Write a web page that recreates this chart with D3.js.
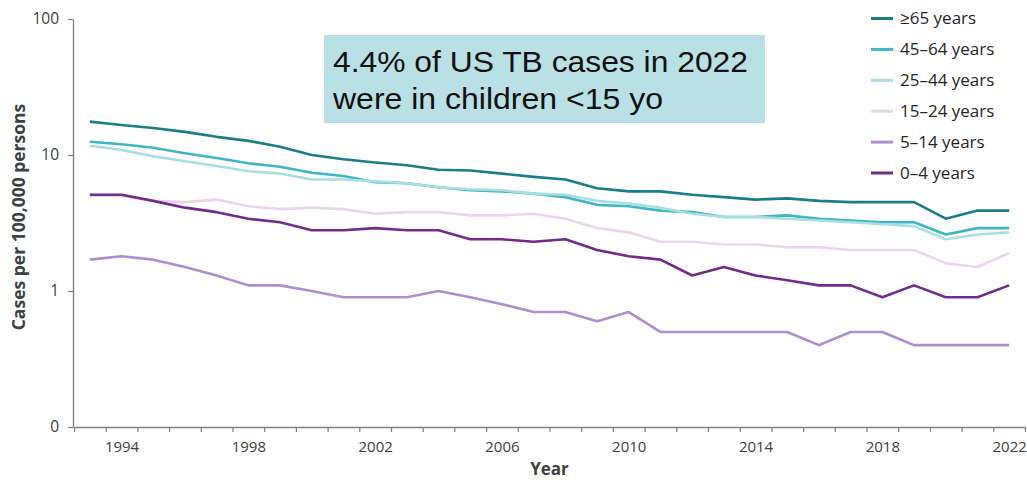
<!DOCTYPE html>
<html>
<head>
<meta charset="utf-8">
<script src="https://cdn.jsdelivr.net/npm/d3@7"></script>
<style>
  html, body { margin: 0; padding: 0; background: #fff; }
  svg { display: block; }
</style>
</head>
<body>
<svg id="chart" width="1027" height="480"></svg>
<script>
// TB case rates per 100,000 persons by age group, United States
const years = d3.range(1993, 2023);

const ageGroups = ["≥65 years", "45–64 years", "25–44 years", "15–24 years", "5–14 years", "0–4 years"];
const groupColors = ["#1a7d88", "#3eb6c3", "#a9dfe1", "#e8d6ea", "#ad8fcd", "#742a8c"];

const rate65plus = [17.6, 16.6, 15.8, 14.8, 13.6, 12.7, 11.5, 10.0, 9.3, 8.8, 8.4, 7.8, 7.7, 7.3, 6.9, 6.6, 5.7, 5.4, 5.4, 5.1, 4.9, 4.7, 4.8, 4.6, 4.5, 4.5, 4.5, 3.4, 3.9, 3.9];
const rate45to64 = [12.5, 12.0, 11.3, 10.3, 9.5, 8.7, 8.2, 7.4, 7.0, 6.3, 6.2, 5.8, 5.5, 5.4, 5.2, 4.9, 4.3, 4.2, 3.9, 3.8, 3.5, 3.5, 3.6, 3.4, 3.3, 3.2, 3.2, 2.6, 2.9, 2.9];
const rate25to44 = [11.7, 10.9, 9.8, 9.0, 8.3, 7.6, 7.3, 6.6, 6.6, 6.4, 6.2, 5.8, 5.6, 5.5, 5.2, 5.1, 4.6, 4.4, 4.1, 3.7, 3.5, 3.5, 3.4, 3.3, 3.2, 3.1, 3.0, 2.4, 2.6, 2.7];
const rate15to24 = [5.0, 5.0, 4.6, 4.5, 4.7, 4.2, 4.0, 4.1, 4.0, 3.7, 3.8, 3.8, 3.6, 3.6, 3.7, 3.4, 2.9, 2.7, 2.3, 2.3, 2.2, 2.2, 2.1, 2.1, 2.0, 2.0, 2.0, 1.6, 1.5, 1.9];
const rate5to14 = [1.7, 1.8, 1.7, 1.5, 1.3, 1.1, 1.1, 1.0, 0.9, 0.9, 0.9, 1.0, 0.9, 0.8, 0.7, 0.7, 0.6, 0.7, 0.5, 0.5, 0.5, 0.5, 0.5, 0.4, 0.5, 0.5, 0.4, 0.4, 0.4, 0.4];
const rate0to4 = [5.1, 5.1, 4.6, 4.1, 3.8, 3.4, 3.2, 2.8, 2.8, 2.9, 2.8, 2.8, 2.4, 2.4, 2.3, 2.4, 2.0, 1.8, 1.7, 1.3, 1.5, 1.3, 1.2, 1.1, 1.1, 0.9, 1.1, 0.9, 0.9, 1.1];

const yTickValues = [0.1, 1, 10, 100];
const yTickLabels = ["0", "1", "10", "100"];
const xLabelYears = [1994, 1998, 2002, 2006, 2010, 2014, 2018, 2022];

const calloutLines = ["4.4% of US TB cases in 2022", "were in children <15 yo"];

const seriesValues = [rate65plus, rate45to64, rate25to44, rate15to24, rate5to14, rate0to4];
const series = ageGroups.map((name, i) => ({
  name,
  color: groupColors[i],
  points: years.map((yr, j) => ({ year: yr, value: seriesValues[i][j] }))
}));

const svg = d3.select("#chart");
const axisFont = "'Open Sans', sans-serif";

// Plot area bounds
const plot = { left: 74, right: 1025, top: 19, bottom: 427 };

// Each year occupies one slot; points sit at slot centres
const x = d3.scaleLinear().domain([1992.5, 2022.5]).range([plot.left, plot.right]);
const y = d3.scaleLog().domain([0.1, 100]).range([plot.bottom, plot.top]);

// X axis: tick marks on slot boundaries, labels every fourth year
const xAxisTicks = svg.append("g")
  .attr("transform", `translate(0,${plot.bottom})`)
  .call(d3.axisBottom(x)
    .tickValues(d3.range(1992.5, 2023, 1))
    .tickSize(5)
    .tickSizeOuter(0)
    .tickFormat(""));
xAxisTicks.select(".domain").attr("stroke", "#7f7f7f").attr("stroke-width", 1.3);
xAxisTicks.selectAll(".tick line").attr("stroke", "#7f7f7f").attr("stroke-width", 1.2);

const xAxisLabels = svg.append("g")
  .attr("transform", `translate(0,${plot.bottom})`)
  .call(d3.axisBottom(x)
    .tickValues(xLabelYears)
    .tickSize(0)
    .tickPadding(14)
    .tickFormat(d3.format("d")));
xAxisLabels.select(".domain").remove();
xAxisLabels.selectAll("text")
  .attr("font-family", axisFont)
  .attr("font-size", 15)
  .attr("fill", "#404040");

// Y axis (log scale, bottom tick labelled 0)
const yAxis = svg.append("g")
  .attr("transform", `translate(${plot.left - 1},0)`)
  .call(d3.axisLeft(y)
    .tickValues(yTickValues)
    .tickSize(5)
    .tickSizeOuter(0)
    .tickPadding(9)
    .tickFormat((d, i) => yTickLabels[i]));
yAxis.select(".domain").attr("stroke", "#7f7f7f").attr("stroke-width", 1.3);
yAxis.selectAll(".tick line").attr("stroke", "#7f7f7f").attr("stroke-width", 1.2);
yAxis.selectAll("text")
  .attr("font-family", axisFont)
  .attr("font-size", 15.5)
  .attr("fill", "#404040");

// Axis titles
svg.append("text")
  .attr("x", (plot.left + plot.right) / 2)
  .attr("y", 475)
  .attr("text-anchor", "middle")
  .attr("font-family", axisFont)
  .attr("font-weight", "bold")
  .attr("font-size", 17)
  .attr("fill", "#404040")
  .text("Year");

svg.append("text")
  .attr("transform", "translate(25,217) rotate(-90)")
  .attr("text-anchor", "middle")
  .attr("font-family", axisFont)
  .attr("font-weight", "bold")
  .attr("font-size", 17.5)
  .attr("fill", "#404040")
  .text("Cases per 100,000 persons");

// Series lines
const line = d3.line()
  .x(d => x(d.year))
  .y(d => y(d.value));

svg.append("g")
  .selectAll("path")
  .data(series)
  .join("path")
  .attr("d", d => line(d.points))
  .attr("fill", "none")
  .attr("stroke", d => d.color)
  .attr("stroke-width", 2.6)
  .attr("stroke-linejoin", "round");

// Legend
const legend = svg.append("g");
const legendRow = legend.selectAll("g")
  .data(series)
  .join("g")
  .attr("transform", (d, i) => `translate(871,${18.5 + i * 30.9})`);
legendRow.append("line")
  .attr("x1", 0).attr("x2", 22)
  .attr("stroke", d => d.color)
  .attr("stroke-width", 3);
legendRow.append("text")
  .attr("x", 29)
  .attr("dy", "0.35em")
  .attr("font-family", axisFont)
  .attr("font-size", 17)
  .attr("fill", "#262626")
  .text(d => d.name);

// Callout box
const calloutWidths = [415, 330];
const callout = svg.append("g");
callout.append("rect")
  .attr("x", 324).attr("y", 35)
  .attr("width", 441).attr("height", 88)
  .attr("fill", "#b9e0e4");
callout.selectAll("text")
  .data(calloutLines)
  .join("text")
  .attr("x", 333)
  .attr("y", (d, i) => 71.5 + i * 37.7)
  .attr("font-family", "'Liberation Sans', Arial, sans-serif")
  .attr("font-size", 30)
  .attr("fill", "#111")
  .attr("textLength", (d, i) => calloutWidths[i])
  .attr("lengthAdjust", "spacingAndGlyphs")
  .text(d => d);
</script>
</body>
</html>
